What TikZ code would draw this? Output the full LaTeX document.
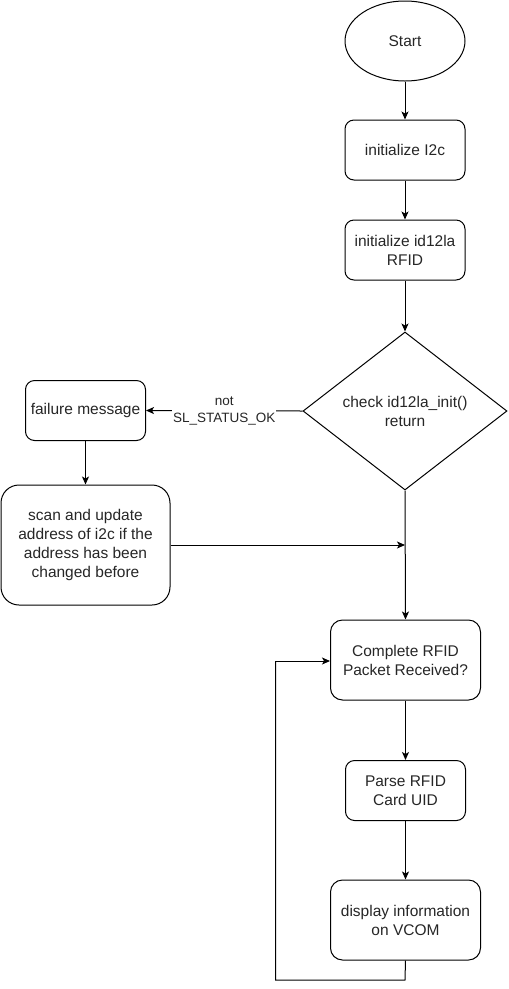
\documentclass[tikz,border=0pt]{standalone}
\usepackage{fontspec}
\setmainfont{Liberation Sans}
\usetikzlibrary{shapes.geometric,arrows.meta}
\begin{document}
\begin{tikzpicture}[x=1pt,y=-1pt,
  every node/.style={font=\fontsize{15.5pt}{19pt}\selectfont, text=black!85, align=center, inner sep=0pt},
  proc/.style={draw, line width=1pt, rounded corners=#1},
  proc/.default=9pt,
  conn/.style={draw, line width=1pt, -{Stealth[length=8pt,width=7pt,inset=2pt]}},
  plain/.style={draw, line width=1pt}]
\useasboundingbox (0,0) rectangle (509,989);
\node[draw, line width=1pt, ellipse, minimum width=120pt, minimum height=80pt] (start) at (405,41) {Start};
\node[proc, minimum width=120pt, minimum height=60pt] (i2c) at (405,150) {initialize I2c};
\node[proc, minimum width=120pt, minimum height=60pt] (rfid) at (405,250) {initialize id12la\\RFID};
\node[draw, line width=1pt, diamond, minimum width=204pt, minimum height=158pt, aspect=1.29] (chk) at (405,411) {};
\node at (405,411) {check id12la\_init()\\return};
\node[proc, minimum width=120pt, minimum height=60pt] (fail) at (85.5,410.5) {failure message};
\node[proc=18pt, minimum width=169pt, minimum height=120pt] (scan) at (85.5,545) {scan and update\\address of i2c if the\\address has been\\changed before};
\node[proc=12pt, minimum width=150pt, minimum height=80pt] (comp) at (405.5,660) {Complete RFID\\Packet Received?};
\node[proc, minimum width=120pt, minimum height=60pt] (parse) at (405.5,790.5) {Parse RFID\\Card UID};
\node[proc=12pt, minimum width=150pt, minimum height=80pt] (disp) at (405.5,920) {display information\\on VCOM};
\coordinate (j) at (405,545);
\coordinate (lb) at (405,980);
\coordinate (ll) at (275.5,980);
\coordinate (lt) at (275.5,661);
\draw[conn] (start) -- (i2c);
\draw[conn] (i2c) -- (rfid);
\draw[conn] (rfid) -- (chk.north);
\draw[conn] (chk.west) -- node[fill=white, inner sep=1pt, font=\fontsize{13.5pt}{17pt}\selectfont] {not\\SL\_STATUS\_OK} (fail.east);
\draw[conn] (fail) -- (scan);
\draw[conn] (scan.east |- j) -- (j);
\draw[conn] (chk.south) -- (comp.north);
\draw[conn] (comp) -- (parse);
\draw[conn] (parse) -- (disp);
\draw[plain] (disp.south) -- (lb) -- (ll) -- (lt);
\draw[conn] (lt) -- (lt -| comp.west);
\end{tikzpicture}
\end{document}
